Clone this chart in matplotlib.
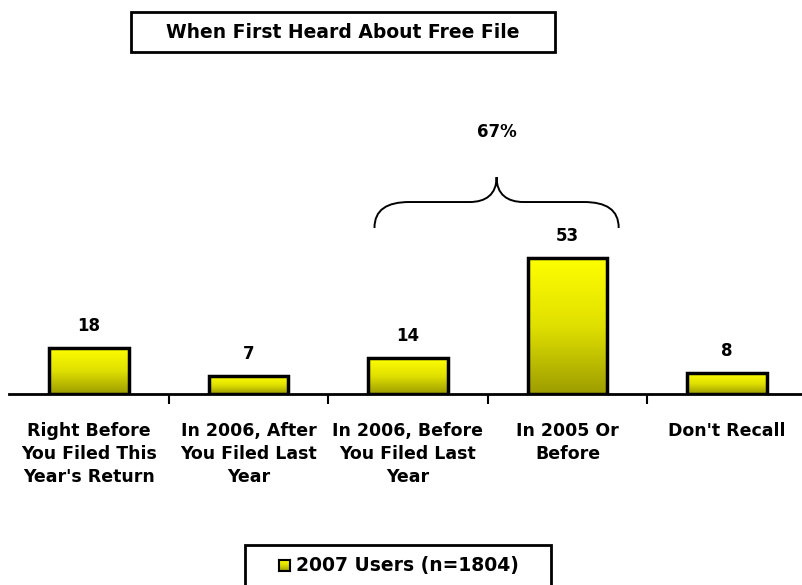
import numpy as np
import matplotlib
matplotlib.use("Agg")
import matplotlib.pyplot as plt
from matplotlib.colors import LinearSegmentedColormap
from matplotlib.patches import Rectangle, PathPatch
from matplotlib.path import Path

categories = ["Right Before\nYou Filed This\nYear's Return",
              "In 2006, After\nYou Filed Last\nYear",
              "In 2006, Before\nYou Filed Last\nYear",
              "In 2005 Or\nBefore",
              "Don't Recall"]
values = [18, 7, 14, 53, 8]
title = "When First Heard About Free File"
series_name = "2007 Users (n=1804)"
group_label = "67%"

W, H = 802, 585
fig = plt.figure(figsize=(W / 100, H / 100), dpi=100)
plt.rcParams['font.family'] = ['DejaVu Sans']

def fx(px):
    return px / W

def fy(py):
    return 1 - py / H

# axes: baseline at y=394px, 2.57 px per unit
ax = fig.add_axes([fx(9), fy(394), fx(798), 257 / H])
ax.set_zorder(2)
for s in ["top", "right", "left"]:
    ax.spines[s].set_visible(False)
ax.spines["bottom"].set_linewidth(2)
ax.set_yticks([])

ygrad = LinearSegmentedColormap.from_list("yg", ["#9c9c00", "#e0e000", "#ffff00"])
grad = np.linspace(0, 1, 256).reshape(-1, 1)
bw = 0.5
for i, v in enumerate(values):
    ax.imshow(grad, cmap=ygrad, origin="lower", aspect="auto",
              extent=[i - bw / 2, i + bw / 2, 0, v], zorder=2)
    ax.bar(i, v, width=bw, facecolor="none", edgecolor="black", linewidth=2.5, zorder=3)
    ax.annotate(str(v), (i, v), xytext=(0, 16), textcoords="offset points",
                ha="center", va="center", fontsize=12, fontweight="bold")
ax.set_xlim(-0.5, 4.5)
ax.set_ylim(0, 100)

ax.set_xticks([0.5, 1.5, 2.5, 3.5])
ax.set_xticklabels([])
ax.tick_params(axis="x", which="major", length=7, width=1.5, direction="out")
ax.set_xticks(range(len(categories)), minor=True)
ax.set_xticklabels(categories, minor=True, fontsize=12.5, fontweight="bold")
ax.tick_params(axis="x", which="minor", length=0, pad=20)
for t in ax.get_xticklabels(minor=True):
    t.set_linespacing(1.35)
    t.set_va("top")

# brace over the 2006-before and 2005-or-before bars
x0, x1 = 1.79, 3.32
xc = (x0 + x1) / 2
y_end, y_h, y_top = 64.6, 74.7, 84.4
r1, r2 = 0.22, 0.17
verts = [(x0, y_end),
         (x0, y_end + 0.7 * (y_h - y_end)), (x0 + 0.35 * r1, y_h), (x0 + r1, y_h),
         (xc - r2, y_h),
         (xc - 0.4 * r2, y_h), (xc, y_h + 0.3 * (y_top - y_h)), (xc, y_top),
         (xc, y_h + 0.3 * (y_top - y_h)), (xc + 0.4 * r2, y_h), (xc + r2, y_h),
         (x1 - r1, y_h),
         (x1 - 0.35 * r1, y_h), (x1, y_end + 0.7 * (y_h - y_end)), (x1, y_end)]
codes = [Path.MOVETO,
         Path.CURVE4, Path.CURVE4, Path.CURVE4,
         Path.LINETO,
         Path.CURVE4, Path.CURVE4, Path.CURVE4,
         Path.CURVE4, Path.CURVE4, Path.CURVE4,
         Path.LINETO,
         Path.CURVE4, Path.CURVE4, Path.CURVE4]
ax.add_patch(PathPatch(Path(verts, codes), facecolor="none", edgecolor="black",
                       linewidth=1.4, clip_on=False))
ax.text(xc, 102, group_label, ha="center", va="center", fontsize=12,
        fontweight="bold", clip_on=False)

# title box
fig.patches.append(Rectangle((fx(131), fy(52)), fx(424), 40 / H, transform=fig.transFigure,
                             facecolor="white", edgecolor="black", linewidth=2, zorder=0))
fig.text(fx(343), fy(32), title, ha="center", va="center", fontsize=13.5, fontweight="bold")

# legend box
fig.patches.append(Rectangle((fx(245), fy(592)), fx(306), 47 / H, transform=fig.transFigure,
                             facecolor="white", edgecolor="black", linewidth=2, zorder=0))
lax = fig.add_axes([fx(279), fy(571), fx(11), 11 / H])
lax.set_zorder(5)
lax.imshow(grad, cmap=ygrad, origin="lower", aspect="auto", extent=[0, 1, 0, 1])
lax.set_xticks([])
lax.set_yticks([])
for s in lax.spines.values():
    s.set_linewidth(1.5)
fig.text(fx(296), fy(566), series_name, ha="left", va="center", fontsize=13.5, fontweight="bold")

fig.savefig("out.png", dpi=100)
